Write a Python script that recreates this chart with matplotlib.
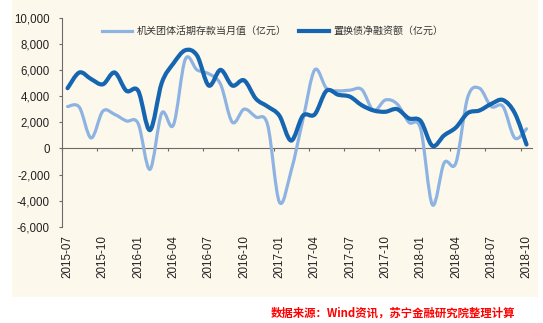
import numpy as np
import pandas as pd
import matplotlib.pyplot as plt
from matplotlib.path import Path
from matplotlib.patches import PathPatch, Rectangle
from matplotlib.lines import Line2D
from matplotlib.ticker import FuncFormatter

# monthly categories 2015-07 .. 2018-10
months = list(pd.date_range('2015-07-01', '2018-10-01', freq='MS').strftime('%Y-%m'))

# 机关团体活期存款当月值 (亿元)
deposits = [3200, 3150, 800, 2850, 2600, 2100, 1900, -1600, 2700, 1800,
            6800, 6000, 5700, 4900, 2000, 3000, 2400, 1800, -4100, -1700,
            2200, 6000, 4600, 4400, 4450, 4500, 2900, 3700, 3400, 2000,
            1500, -4300, -1100, -1100, 3900, 4600, 3200, 3200, 800, 1500]

# 置换债净融资额 (亿元)
swap_bonds = [4600, 5800, 5300, 4900, 5800, 4400, 4400, 1400, 5000, 6500,
              7500, 7100, 4800, 6000, 4800, 5200, 3800, 3200, 2500, 600,
              2500, 2600, 4400, 4100, 3950, 3300, 2900, 2800, 3000, 2300,
              2100, 200, 1000, 1600, 2700, 2900, 3400, 3700, 2700, 300]

labels = ['机关团体活期存款当月值（亿元）', '置换债净融资额（亿元）']
colors = ['#8db3e2', '#1565b0']
widths = [2.3, 3.0]

cream = '#fdf8ec'
axis_col = '#6b6b6b'
cjk = ['Noto Sans CJK SC', 'DejaVu Sans']


def smooth_path(xs, ys):
    # Catmull-Rom through the points, written as cubic Bezier segments
    pts = np.column_stack([xs, ys]).astype(float)
    n = len(pts)
    verts = [pts[0]]
    codes = [Path.MOVETO]
    for i in range(n - 1):
        p0 = pts[i - 1] if i > 0 else pts[i]
        p1 = pts[i]
        p2 = pts[i + 1]
        p3 = pts[i + 2] if i + 2 < n else pts[i + 1]
        verts += [p1 + (p2 - p0) / 6, p2 - (p3 - p1) / 6, p2]
        codes += [Path.CURVE4] * 3
    return Path(verts, codes)


fig = plt.figure(figsize=(5.43, 3.23), dpi=100)
fig.patches.append(Rectangle((12 / 543, 1 - 297 / 323), 526 / 543, 297 / 323,
                             transform=fig.transFigure, facecolor=cream,
                             edgecolor='none', zorder=-10))

ax = fig.add_axes([0.1136, 0.2972, 0.8669, 0.6486])
ax.patch.set_visible(False)

x = np.arange(len(months))
for series, c, lw in zip([deposits, swap_bonds], colors, widths):
    ax.add_patch(PathPatch(smooth_path(x, series), fill=False, edgecolor=c,
                           lw=lw, capstyle='round', joinstyle='round', zorder=3))

ymin, ymax = -6000, 10000
ax.set_xlim(-0.5, len(months) - 0.5)
ax.set_ylim(ymin, ymax)

# y axis
ax.set_yticks(np.arange(ymin, ymax + 1, 2000))
ax.yaxis.set_major_formatter(FuncFormatter(lambda v, p: f'{v:,.0f}'))
ax.tick_params(axis='y', direction='out', length=2.3, width=0.8,
               color=axis_col, pad=6.2, labelsize=8.3, labelcolor='#222222')
for lab in ax.get_yticklabels():
    lab.set_family('Liberation Sans')

# category labels along the bottom
ax.set_xticks(x[::3])
ax.set_xticklabels(months[::3], rotation=90, family='Liberation Sans',
                   fontsize=8.4, color='#222222')
ax.tick_params(axis='x', length=0, pad=5.8)

for s in ['top', 'right', 'bottom']:
    ax.spines[s].set_visible(False)
ax.spines['left'].set_color(axis_col)
ax.spines['left'].set_linewidth(0.8)

# horizontal axis line at zero with ticks between categories
zero_axis = ax.secondary_xaxis((0 - ymin) / (ymax - ymin))
zero_axis.set_xticks(np.arange(-0.5, len(months) - 1, 3))
zero_axis.set_xticklabels([])
zero_axis.tick_params(direction='out', length=2.3, width=0.8, color=axis_col)
zero_axis.spines['bottom'].set_color(axis_col)
zero_axis.spines['bottom'].set_linewidth(0.8)

handles = [Line2D([], [], color=c, lw=lw) for c, lw in zip(colors, widths)]
fig.legend(handles, labels, loc='center', bbox_to_anchor=(0.502, 0.904),
           ncol=2, frameon=False, handlelength=3.0, handletextpad=0.5,
           columnspacing=1.2, prop={'family': cjk, 'size': 7.2},
           labelcolor='#333333')

fig.text(0.948, 0.031, '数据来源：Wind资讯，苏宁金融研究院整理计算',
         ha='right', va='center', color='#ff0000', fontsize=8.2,
         family=cjk, weight='bold')

fig.savefig('out.png', dpi=100)
